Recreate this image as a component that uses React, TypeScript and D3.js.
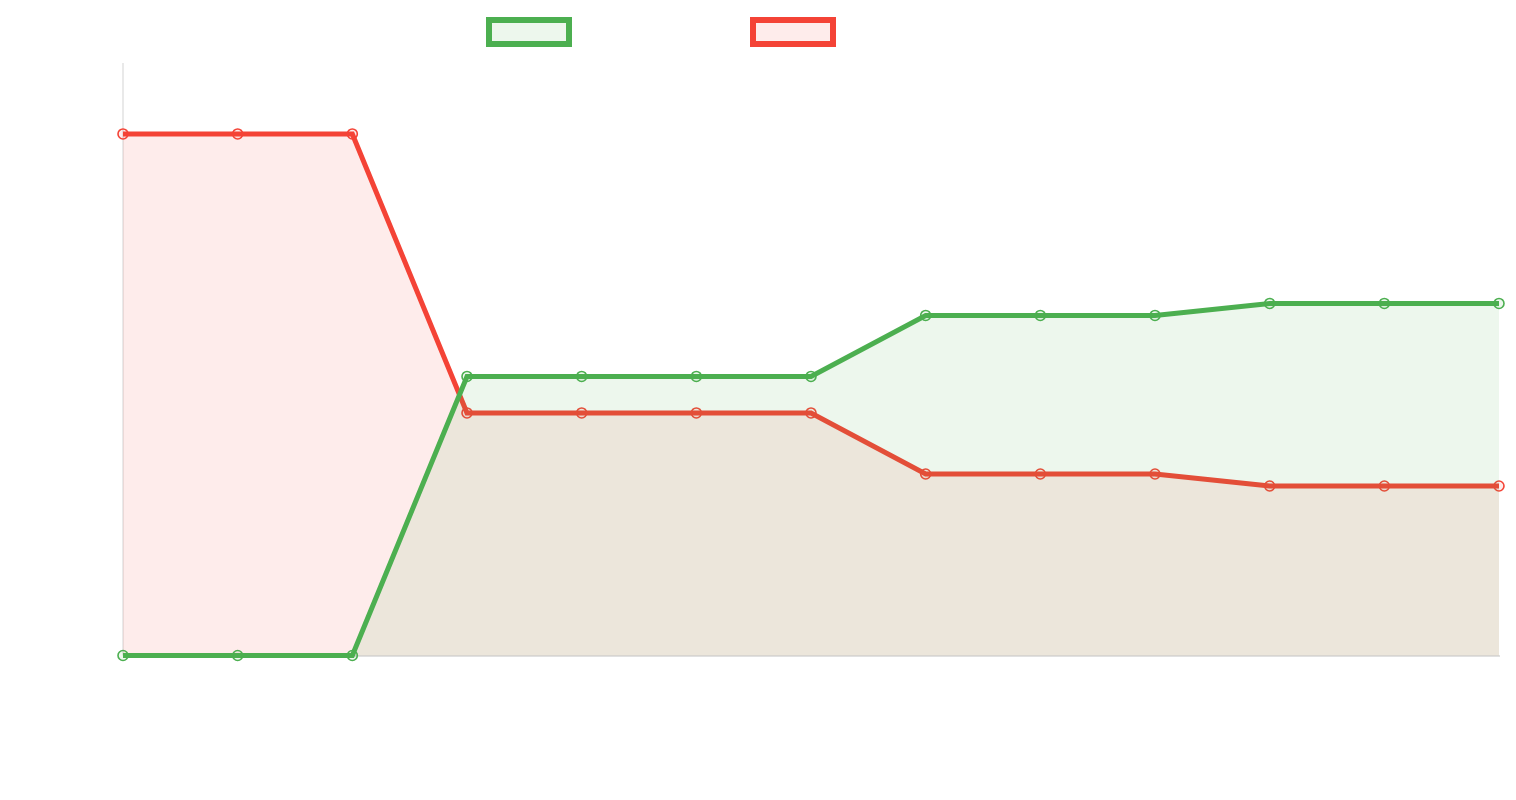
import React from "react";
import * as d3 from "d3";

const categories = ["1", "2", "3", "4", "5", "6", "7", "8", "9", "10", "11", "12", "13"];
const greenValues = [0, 0, 0, 53.5, 53.5, 53.5, 53.5, 65.2, 65.2, 65.2, 67.5, 67.5, 67.5];
const redValues = [100, 100, 100, 46.5, 46.5, 46.5, 46.5, 34.8, 34.8, 34.8, 32.5, 32.5, 32.5];
const yMax = 113.6;

const series = [
  { name: "green", values: greenValues, stroke: "#4CAF50", fill: "rgba(76,175,80,0.1)" },
  { name: "red", values: redValues, stroke: "#F44336", fill: "rgba(244,67,54,0.1)" },
];

export default function App() {
  const W = 1516, H = 800;
  const x = d3.scalePoint<string>().domain(categories).range([123, 1499]);
  const y = d3.scaleLinear().domain([0, yMax]).range([655.5, 63]);

  const line = d3.line<number>().x((_, i) => x(categories[i])!).y((d) => y(d));
  const area = d3
    .area<number>()
    .x((_, i) => x(categories[i])!)
    .y0(y(0))
    .y1((d) => y(d));

  const drawOrder = [series[1], series[0]];

  return (
    <svg
      width={W}
      height={H}
      style={{ position: "absolute", left: 0, top: 0, background: "#fff" }}
    >
      {/* axes */}
      <line x1={123} x2={123} y1={63} y2={655.5} stroke="#e2e2e2" strokeWidth={1.5} />
      <line x1={123} x2={1500} y1={656} y2={656} stroke="#d6d6d6" strokeWidth={1.5} />

      {drawOrder.map((s) => (
        <g key={s.name}>
          <path d={area(s.values)!} fill={s.fill} stroke="none" />
          <path
            d={line(s.values)!}
            fill="none"
            stroke={s.stroke}
            strokeWidth={5}
            strokeLinejoin="miter"
          />
          {s.values.map((v, i) => (
            <circle
              key={i}
              cx={x(categories[i])}
              cy={y(v)}
              r={5}
              fill={s.fill}
              stroke={s.stroke}
              strokeWidth={1.6}
            />
          ))}
        </g>
      ))}

      {/* legend */}
      {series.map((s, i) => (
        <rect
          key={s.name}
          x={489 + i * 264}
          y={20}
          width={80}
          height={24}
          fill={s.fill}
          stroke={s.stroke}
          strokeWidth={6}
        />
      ))}
    </svg>
  );
}
